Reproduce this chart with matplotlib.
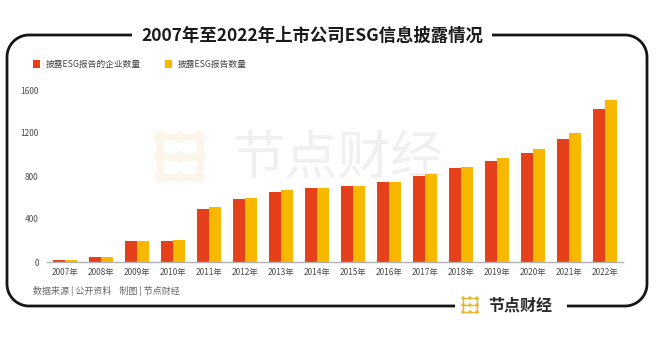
import numpy as np
import matplotlib
matplotlib.use("Agg")
import matplotlib.pyplot as plt
from matplotlib.patches import Rectangle, Circle

plt.rcParams['font.family'] = ['Noto Sans CJK SC', 'DejaVu Sans']

years = ["2007年", "2008年", "2009年", "2010年", "2011年", "2012年", "2013年", "2014年",
         "2015年", "2016年", "2017年", "2018年", "2019年", "2020年", "2021年", "2022年"]
companies = [19, 46, 192, 198, 495, 585, 647, 684, 703, 746, 802, 870, 941, 1012, 1146, 1421]
reports = [15, 43, 198, 204, 514, 598, 666, 684, 706, 746, 817, 885, 963, 1049, 1204, 1511]
series_names = ["披露ESG报告的企业数量", "披露ESG报告数量"]
y_ticks = [0, 400, 800, 1200, 1600]

RED = "#e5401a"
YELLOW = "#f8b800"
W, H = 662, 337

fig = plt.figure(figsize=(W / 100, H / 100), dpi=100)
fig.patch.set_facecolor("white")

# background layer in pixel coordinates (frame, watermark, legend, notes)
bg = fig.add_axes([0, 0, 1, 1], zorder=0)
bg.set_xlim(0, W)
bg.set_ylim(H, 0)
bg.axis("off")

def arc(cx, cy, r, a0, a1):
    t = np.radians(np.linspace(a0, a1, 20))
    return cx + r * np.cos(t), cy - r * np.sin(t)

L, R, T, B, r = 7, 647, 35, 306, 22
lw, lc = 2.0, "#151515"
# left part of frame
ax1, ay1 = arc(L + r, T + r, r, 90, 180)
ax2, ay2 = arc(L + r, B - r, r, 180, 270)
xs = np.concatenate([[132], ax1, ax2, [455]])
ys = np.concatenate([[T], ay1, ay2, [B]])
bg.plot(xs, ys, color=lc, lw=lw, solid_capstyle="butt")
# right part of frame
ax3, ay3 = arc(R - r, B - r, r, 270, 360)
ax4, ay4 = arc(R - r, T + r, r, 0, 90)
xs = np.concatenate([[567], ax3, ax4, [492]])
ys = np.concatenate([[B], ay3, ay4, [T]])
bg.plot(xs, ys, color=lc, lw=lw, solid_capstyle="butt")

bg.text(312, 36, "2007年至2022年上市公司ESG信息披露情况", ha="center", va="center",
        fontsize=12.5, fontweight="bold", color="#1a1a1a")

# legend
for x0, c, name in [(33, RED, series_names[0]), (165, YELLOW, series_names[1])]:
    bg.add_patch(Rectangle((x0, 60), 6.5, 7.5, color=c, lw=0))
    bg.text(x0 + 13, 64, name, ha="left", va="center", fontsize=6.3, color="#444444")

# watermark
def logo(x0, y0, step, rad, color, lw_):
    pts = [(x0 + i * step, y0 + j * step) for i in range(3) for j in range(3)]
    for (px, py) in pts:
        bg.add_patch(Circle((px, py), rad, color=color, lw=0))
    for j in range(3):
        bg.plot([x0, x0 + 2 * step], [y0 + j * step, y0 + j * step], color=color, lw=lw_)
    for i in (0, 2):
        bg.plot([x0 + i * step, x0 + i * step], [y0, y0 + 2 * step], color=color, lw=lw_)

logo(160, 137, 20, 6, "#fbf5ec", 5)
bg.text(338, 158, "节点财经", ha="center", va="center", fontsize=38, color="#f0f0f0")

bg.text(33, 291, "数据来源 | 公开资料    制图 | 节点财经", ha="left", va="center",
        fontsize=6.5, color="#666666")

# bottom logo
logo(463, 298, 7, 1.7, "#eeb52c", 1.0)
bg.text(488, 306, "节点财经", ha="left", va="center", fontsize=11.5,
        fontweight="bold", color="#2a2a2a")

# chart
ax = fig.add_axes([47 / W, 1 - 262 / H, 576 / W, 172 / H], zorder=1)
ax.patch.set_alpha(0)
x = np.arange(len(years))
bw = 0.31
ax.bar(x - 0.165, companies, bw, color=RED)
ax.bar(x + 0.165, reports, bw, color=YELLOW)
ax.set_xlim(-0.5, len(years) - 0.5)
ax.set_ylim(0, 1600)
ax.set_yticks(y_ticks)
ax.set_yticklabels([str(v) for v in y_ticks])
ax.set_xticks(x)
ax.set_xticklabels(years)
for s in ("top", "right", "left"):
    ax.spines[s].set_visible(False)
ax.spines["bottom"].set_color("#b0b0b0")
ax.spines["bottom"].set_linewidth(1.0)
ax.tick_params(axis="both", length=0, labelsize=6, labelcolor="#4a4a4a")
ax.tick_params(axis="y", pad=6)
ax.tick_params(axis="x", pad=4)

fig.savefig("out.png", dpi=100, facecolor="white")
